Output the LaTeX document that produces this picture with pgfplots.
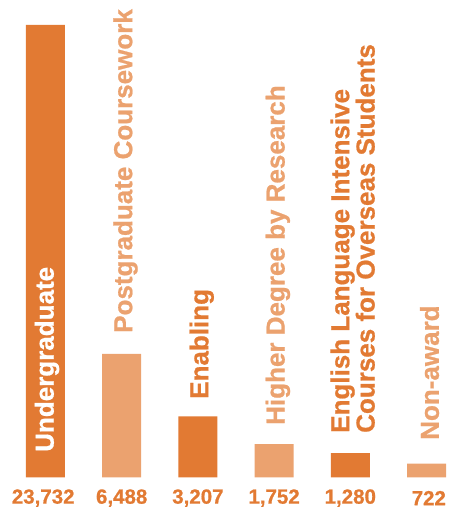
\documentclass[border=0pt]{standalone}
\usepackage{fontspec}
\setmainfont{Liberation Sans}[BoldFeatures={FakeBold=0.8}]
\usepackage{pgfplots}
\pgfplotsset{compat=1.18}

\definecolor{darkor}{HTML}{E27A33}
\definecolor{lightor}{HTML}{EBA26F}

\tikzset{
    cat/.style={rotate=90, anchor=west, inner sep=0pt, align=left,
        font=\fontsize{26bp}{24bp}\selectfont\bfseries},
    val/.style={inner sep=0pt, text=darkor,
        font=\fontsize{20.5bp}{22bp}\selectfont\bfseries},
}

\begin{document}
\begin{tikzpicture}
\begin{axis}[
    width=449bp, height=508bp, scale only axis,
    hide axis, clip=false,
    xmin=-0.597, xmax=5.295,
    ymin=-1600, ymax=25043,
    ybar, bar width=39bp, bar shift=0pt,
]
\addplot[fill=darkor, draw=none] coordinates {(0,23732) (2,3207) (4,1280)};
\addplot[fill=lightor, draw=none] coordinates {(1,6488) (3,1752) (5,722)};

% category labels
\node[cat, text=white]   at (axis cs:0.02,1337) {Undergraduate};
\node[cat, text=lightor] at (axis cs:1.05,7579) {Postgraduate Coursework};
\node[cat, text=darkor]  at (axis cs:2.05,4117) {Enabling};
\node[cat, text=lightor] at (axis cs:3.05,2753) {Higher Degree by Research};
\node[cat, text=darkor]  at (axis cs:4.03,2334) {English Language Intensive\\Courses for Overseas Students};
\node[cat, text=lightor] at (axis cs:5.04,1967) {Non-award};

% values
\node[val] at (axis cs:-0.03,-1080) {23,732};
\node[val] at (axis cs:1,-1080) {6,488};
\node[val] at (axis cs:2,-1080) {3,207};
\node[val] at (axis cs:3,-1080) {1,752};
\node[val] at (axis cs:4,-1080) {1,280};
\node[val] at (axis cs:5.03,-1080) {722};
\end{axis}
\path (current axis.south west) rectangle (current axis.north east);
\end{tikzpicture}
\end{document}
